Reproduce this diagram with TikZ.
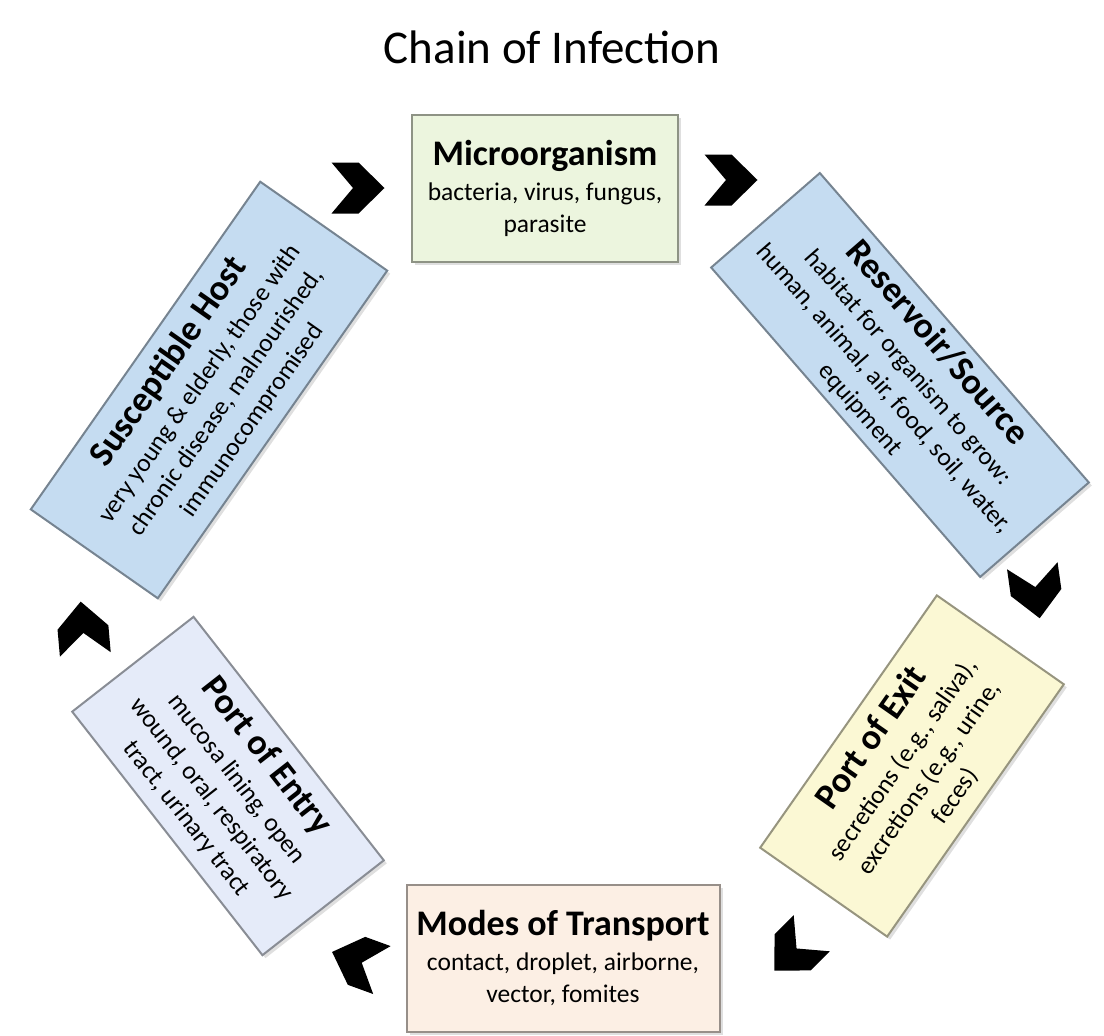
\documentclass[tikz,border=0pt]{standalone}
\usepackage{fontspec}
\setmainfont{Carlito}
\usetikzlibrary{shadows}
\definecolor{microgreen}{RGB}{236,245,222}
\definecolor{hostblue}{RGB}{197,220,241}
\definecolor{exityellow}{RGB}{251,248,212}
\definecolor{modespeach}{RGB}{252,239,228}
\definecolor{entrylilac}{RGB}{229,235,249}
\newcommand{\boxhead}[1]{{\fontsize{36}{40}\selectfont\bfseries #1}}
\tikzset{
    chevarrow/.pic={
        \fill[black] (-26.5,-25.5)--(0.5,-25.5)--(26.5,0)--(0.5,25.5)--(-26.5,25.5)--(-5,0)--cycle;
    },
    stagebox/.style={fill=#1, draw=#1!60!black, line width=2pt, align=center, inner sep=0pt,
        font=\fontsize{25.5}{32}\selectfont,
        drop shadow={opacity=0.25, shadow xshift=3pt, shadow yshift=-3pt}},
}

\begin{document}
\begin{tikzpicture}[x=1pt,y=-1pt]
    \useasboundingbox (0,0) rectangle (1104,1036);
    \node (title) at (552,47) {\fontsize{47}{52}\selectfont Chain of Infection};
    \node[stagebox=microgreen, minimum width=266pt, minimum height=147pt] (micro) at (545,188)
        {\boxhead{Microorganism}\\[3pt] bacteria, virus, fungus,\\ parasite};
    \node[stagebox=hostblue, minimum width=410pt, minimum height=144pt, rotate=-49] (reservoir) at (900,375)
        {\boxhead{Reservoir/Source}\\[3pt] habitat for organism to grow:\\ human, animal, air, food, soil, water,\\ equipment};
    \node[stagebox=exityellow, minimum width=308pt, minimum height=155pt, rotate=55] (exit) at (912,766)
        {\boxhead{Port of Exit}\\[3pt] secretions (e.g., saliva),\\ excretions (e.g., urine,\\ feces)};
    \node[stagebox=modespeach, minimum width=313pt, minimum height=147pt] (transport) at (563,958)
        {\boxhead{Modes of Transport}\\[3pt] contact, droplet, airborne,\\ vector, fomites};
    \node[stagebox=entrylilac, minimum width=309pt, minimum height=154pt, rotate=-52] (entry) at (228,786)
        {\boxhead{Port of Entry}\\[3pt] mucosa lining, open\\ wound, oral, respiratory\\ tract, urinary tract};
    \node[stagebox=hostblue, minimum width=400pt, minimum height=155pt, rotate=55] (host) at (209,390)
        {\boxhead{Susceptible Host}\\[3pt] very young \& elderly, those with\\ chronic disease, malnourished,\\ immunocompromised};
    \foreach \cx/\cy/\ang in {358/188/0, 731/180/0, 1036/592/-82, 793/952/-135, 357/961/160, 83/628/95}{
        \pic[rotate=\ang] at (\cx,\cy) {chevarrow};
    }
\end{tikzpicture}
\end{document}
